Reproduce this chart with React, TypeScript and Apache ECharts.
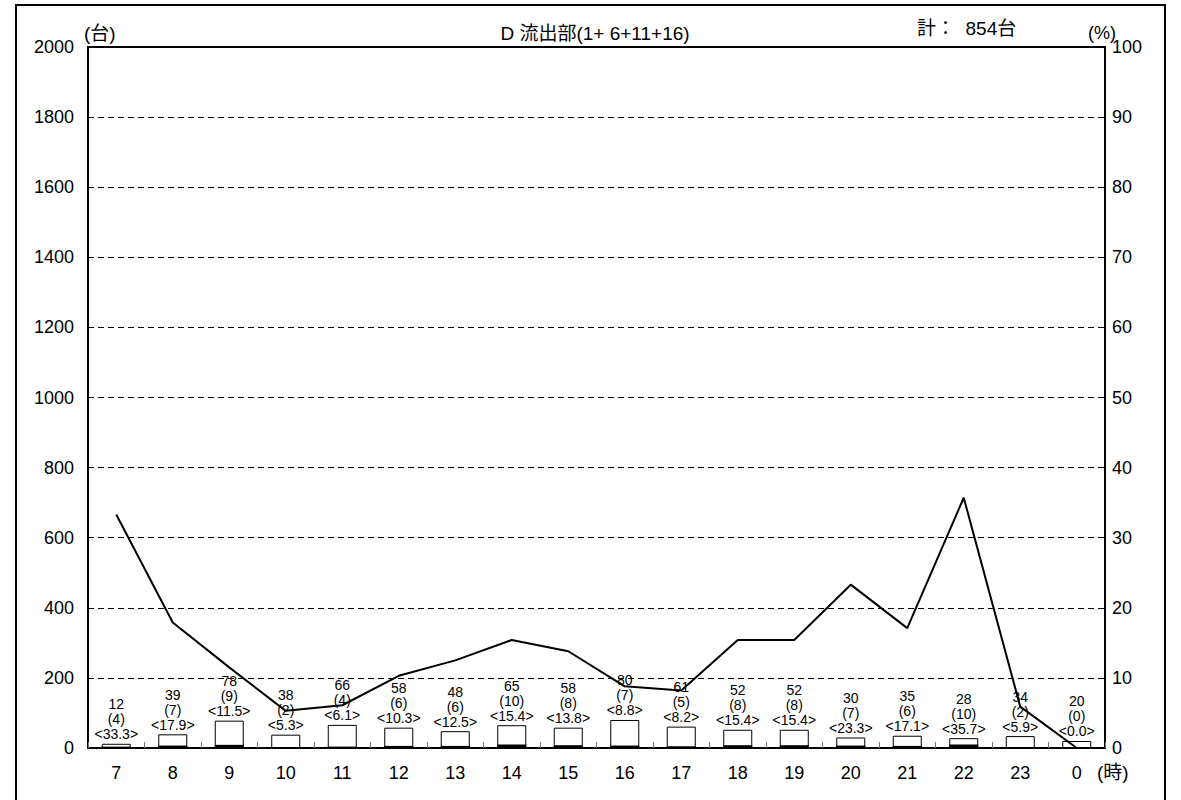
import React, { useEffect, useRef } from "react";
import * as echarts from "echarts";

const hours = ["7", "8", "9", "10", "11", "12", "13", "14", "15", "16", "17", "18", "19", "20", "21", "22", "23", "0"];
const totals = [12, 39, 78, 38, 66, 58, 48, 65, 58, 80, 61, 52, 52, 30, 35, 28, 34, 20];
const large = [4, 7, 9, 2, 4, 6, 6, 10, 8, 7, 5, 8, 8, 7, 6, 10, 2, 0];
const largePct = [33.3, 17.9, 11.5, 5.3, 6.1, 10.3, 12.5, 15.4, 13.8, 8.8, 8.2, 15.4, 15.4, 23.3, 17.1, 35.7, 5.9, 0.0];
const leftTicks = { min: 0, max: 2000, interval: 200 };
const rightTicks = { min: 0, max: 100, interval: 10 };
const titleText = "D 流出部(1+ 6+11+16)";
const totalText = "計：  854台";

const FONT = "'Liberation Sans', Arial, 'Noto Sans CJK JP', sans-serif";

export default function App() {
  const ref = useRef<HTMLDivElement>(null);
  useEffect(() => {
    if (!ref.current) return;
    const chart = echarts.init(ref.current, undefined, { renderer: "svg" });
    chart.setOption({
      animation: false,
      backgroundColor: "#fff",
      textStyle: { fontFamily: FONT, color: "#000" },
      grid: {
        left: 88,
        top: 47,
        right: 76,
        bottom: 52,
        show: true,
        borderColor: "#000",
        borderWidth: 2,
        backgroundColor: "transparent",
      },
      xAxis: {
        type: "category",
        data: hours,
        boundaryGap: true,
        axisLine: { show: true, lineStyle: { color: "#000", width: 2 } },
        axisTick: { show: true, inside: true, length: 6, lineStyle: { color: "#777", width: 1 } },
        axisLabel: { fontSize: 18, color: "#000", margin: 16, fontFamily: FONT },
      },
      yAxis: [
        {
          type: "value",
          ...leftTicks,
          axisLine: { show: true, lineStyle: { color: "#000", width: 2 } },
          axisTick: { show: false },
          axisLabel: { fontSize: 18, color: "#000", margin: 14, fontFamily: FONT, formatter: (v: number) => String(v) },
          splitLine: { show: true, lineStyle: { color: "#000", type: [6, 4], width: 1 } },
        },
        {
          type: "value",
          ...rightTicks,
          position: "right",
          axisLine: { show: true, lineStyle: { color: "#000", width: 2 } },
          axisTick: { show: false },
          axisLabel: { fontSize: 18, color: "#000", margin: 7, fontFamily: FONT, formatter: (v: number) => String(v) },
          splitLine: { show: false },
        },
      ],
      series: [
        {
          type: "bar",
          name: "total",
          data: totals,
          barWidth: 29,
          itemStyle: { color: "#fff", borderColor: "#000", borderWidth: 1 },
          label: {
            show: true,
            position: "top",
            distance: 2,
            fontSize: 14,
            lineHeight: 15,
            color: "#000",
            fontFamily: FONT,
            formatter: (p: any) =>
              `${totals[p.dataIndex]}\n(${large[p.dataIndex]})\n<${largePct[p.dataIndex].toFixed(1)}>`,
          },
          z: 2,
        },
        {
          type: "bar",
          name: "large",
          data: large,
          barWidth: 29,
          barGap: "-100%",
          itemStyle: { color: "#000" },
          z: 3,
        },
        {
          type: "line",
          name: "pct",
          yAxisIndex: 1,
          data: largePct,
          symbol: "none",
          lineStyle: { color: "#000", width: 2 },
          z: 4,
        },
      ],
      graphic: [
        {
          type: "rect",
          shape: { x: 16, y: 5, width: 1149, height: 810 },
          style: { fill: "none", stroke: "#000", lineWidth: 2 },
          silent: true,
        },
        {
          type: "text",
          x: 595,
          y: 33,
          style: { text: titleText, font: `19px ${FONT}`, fill: "#000", textAlign: "center", textVerticalAlign: "middle" },
        },
        {
          type: "text",
          x: 917,
          y: 28,
          style: { text: totalText, font: `19px ${FONT}`, fill: "#000", textAlign: "left", textVerticalAlign: "middle" },
        },
        {
          type: "text",
          x: 84,
          y: 33,
          style: { text: "(台)", font: `19px ${FONT}`, fill: "#000", textAlign: "left", textVerticalAlign: "middle" },
        },
        {
          type: "text",
          x: 1088,
          y: 33,
          style: { text: "(%)", font: `18px ${FONT}`, fill: "#000", textAlign: "left", textVerticalAlign: "middle" },
        },
        {
          type: "text",
          x: 1097,
          y: 772,
          style: { text: "(時)", font: `19px ${FONT}`, fill: "#000", textAlign: "left", textVerticalAlign: "middle" },
        },
      ],
    });
    return () => chart.dispose();
  }, []);
  return (
    <div
      ref={ref}
      style={{ position: "absolute", left: 0, top: 0, width: 1181, height: 800, background: "#fff" }}
    />
  );
}
